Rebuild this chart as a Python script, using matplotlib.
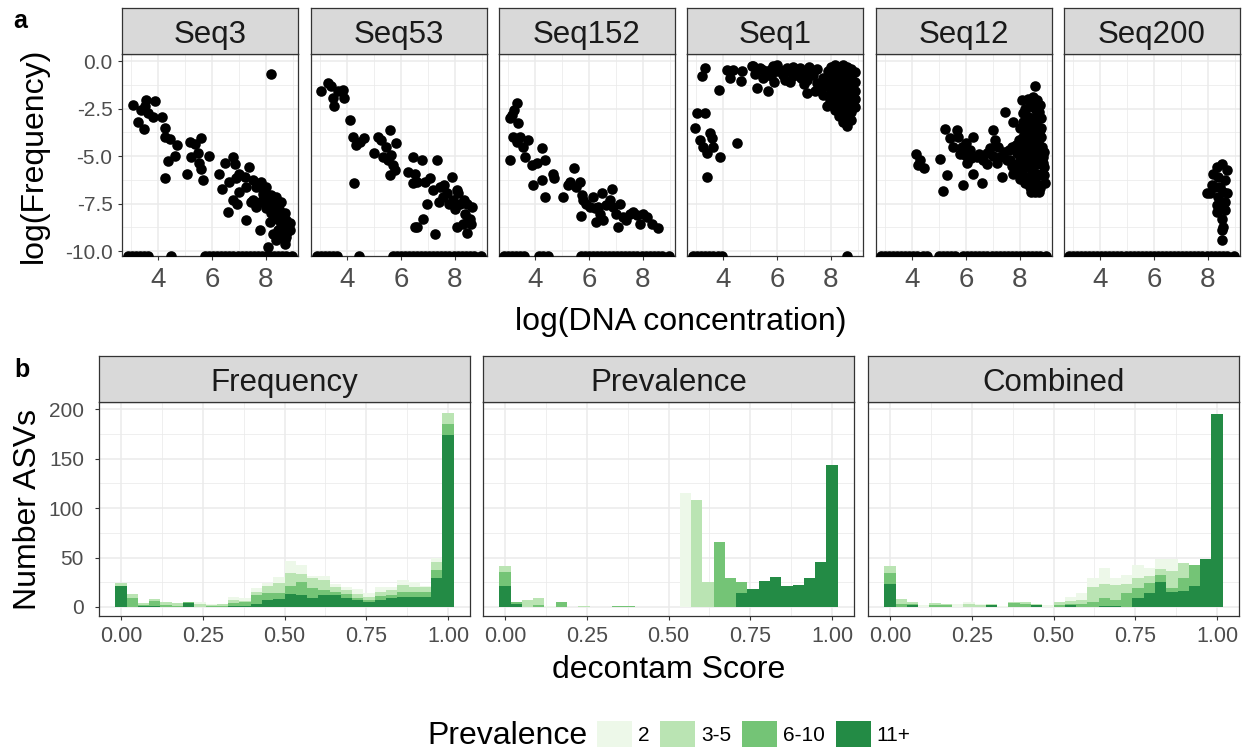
import numpy as np
import matplotlib
matplotlib.use('Agg')
import matplotlib.pyplot as plt
from matplotlib.patches import Patch
from matplotlib.ticker import FixedLocator, FormatStrFormatter

plt.rcParams['font.family'] = ['Liberation Sans', 'DejaVu Sans']
plt.rcParams['axes.unicode_minus'] = False

W, H = 1245, 750

# ---- panel a: log(Frequency) vs log(DNA concentration) ----
seq_names = ['Seq3', 'Seq53', 'Seq152', 'Seq1', 'Seq12', 'Seq200']

seq3_points = [
    (3.07, -2.31), (3.26, -3.19), (3.47, -3.59), (3.57, -2.04), (3.38, -2.57), (3.51, -2.39),
    (3.63, -2.75), (3.81, -2.92), (3.90, -2.10), (4.16, -2.92), (4.25, -3.50), (4.25, -4.01),
    (4.43, -4.12), (4.37, -5.26), (4.70, -4.42), (4.65, -5.00), (4.25, -6.18), (5.07, -5.93),
    (5.20, -4.24), (5.36, -4.37), (5.60, -4.03), (5.23, -5.07), (5.48, -4.86), (5.54, -5.39),
    (5.60, -5.70), (5.91, -4.98), (5.67, -6.27), (6.28, -5.92), (6.38, -6.76), (6.47, -5.35),
    (6.78, -5.04), (6.84, -5.42), (6.65, -6.36), (6.90, -6.18), (7.02, -5.92), (7.21, -6.09),
    (7.37, -5.56), (6.78, -7.32), (6.59, -7.94), (6.93, -7.50), (7.25, -8.38), (7.02, -6.88),
    (7.52, -6.27), (7.64, -6.62), (7.83, -6.36), (7.89, -6.80), (8.01, -6.62), (8.20, -7.06),
    (8.38, -7.15), (8.57, -7.41), (8.63, -8.03), (8.75, -8.38), (8.88, -8.91), (8.75, -9.26),
    (8.51, -9.17), (8.26, -9.08), (8.14, -8.47), (7.77, -8.91), (8.07, -9.79), (8.69, -9.61),
    (8.44, -8.91), (8.14, -7.50), (7.89, -7.32), (8.01, -7.76), (8.32, -8.12), (8.57, -8.56),
    (8.81, -8.73), (8.38, -9.44), (8.20, -0.67), (7.52, -7.32), (7.64, -7.68), (7.77, -7.41),
    (7.46, -7.41), (7.27, -6.62), (8.50, -7.80), (8.70, -8.00), (8.60, -8.90), (8.40, -8.30),
    (8.80, -9.00), (8.20, -8.00), (7.90, -7.00), (8.10, -7.30), (8.30, -7.60), (8.90, -8.50),
    (8.70, -9.40),
]
seq53_points = [
    (3.05, -1.60), (3.30, -1.16), (3.42, -1.34), (3.48, -1.95), (3.54, -2.39), (3.67, -1.60),
    (3.85, -1.51), (3.91, -1.95), (4.10, -3.10), (4.22, -3.98), (4.35, -4.42), (4.47, -4.24),
    (4.65, -4.07), (4.28, -6.44), (5.02, -4.86), (5.15, -3.98), (5.27, -4.15), (5.33, -5.04),
    (5.46, -4.51), (5.52, -5.21), (5.58, -3.63), (5.64, -4.95), (5.70, -5.48), (5.83, -4.33),
    (5.58, -6.00), (5.77, -5.74), (6.26, -5.83), (6.44, -6.44), (6.54, -8.73), (6.46, -5.04),
    (6.52, -5.92), (6.59, -6.36), (6.77, -5.21), (6.90, -6.36), (6.96, -7.50), (6.83, -8.29),
    (6.59, -8.73), (7.08, -6.18), (7.33, -5.21), (7.27, -9.08), (7.45, -6.62), (7.57, -7.15),
    (7.70, -6.97), (7.88, -6.09), (7.94, -7.32), (8.07, -6.80), (8.13, -6.97), (8.19, -7.50),
    (8.32, -7.32), (8.38, -8.03), (8.44, -7.50), (8.50, -8.38), (8.56, -8.29), (8.62, -7.68),
    (8.46, -9.05), (8.07, -8.73), (7.60, -6.50), (7.80, -7.50), (8.00, -7.80), (8.30, -8.60),
    (8.60, -8.60), (7.20, -6.80), (7.40, -7.40),
]
seq152_points = [
    (3.07, -3.01), (3.14, -2.83), (3.22, -2.57), (3.32, -2.22), (3.38, -3.27), (3.07, -5.21),
    (3.20, -3.98), (3.32, -4.24), (3.44, -3.98), (3.57, -4.51), (3.63, -5.04), (3.75, -4.15),
    (3.88, -5.48), (4.06, -5.39), (4.25, -4.60), (4.37, -5.21), (4.25, -6.27), (3.94, -6.53),
    (4.37, -7.15), (4.68, -5.92), (4.70, -6.18), (5.05, -7.15), (5.23, -6.53), (5.30, -6.36),
    (5.46, -5.65), (5.54, -6.62), (5.67, -6.36), (5.73, -7.06), (5.79, -7.32), (5.69, -8.17),
    (5.91, -7.50), (6.04, -7.68), (6.22, -7.76), (6.28, -8.47), (6.47, -6.97), (6.41, -8.03),
    (6.53, -8.38), (6.65, -7.59), (6.84, -6.71), (6.78, -7.32), (6.90, -7.68), (7.02, -8.03),
    (7.09, -8.73), (7.27, -8.20), (7.39, -8.38), (7.52, -8.03), (7.64, -7.94), (7.77, -8.12),
    (7.89, -8.56), (8.01, -8.03), (8.14, -8.20), (8.32, -8.56), (8.57, -8.77), (7.15, -7.50),
    (6.16, -7.15), (6.35, -7.68),
]
seq1_points = [
    (2.97, -3.50), (3.03, -2.75), (3.21, -0.81), (3.34, -0.37), (3.34, -2.75), (3.15, -4.15),
    (3.27, -4.51), (3.40, -4.86), (3.40, -6.09), (3.52, -3.80), (3.58, -4.07), (3.64, -4.51),
    (3.89, -5.07), (3.87, -1.55), (4.14, -0.46), (4.26, -0.90), (4.39, -0.46), (4.69, -0.55),
    (4.67, -1.07), (4.51, -4.30), (5.06, -0.28), (5.25, -1.43), (5.68, -1.60), (5.13, -0.28),
    (5.37, -0.37), (5.50, -0.46), (5.62, -0.63), (5.74, -0.46), (5.87, -0.28), (5.99, -0.55),
    (6.11, -0.46), (6.24, -0.72), (6.36, -0.37), (6.48, -0.55), (6.61, -0.81), (6.73, -0.55),
    (6.85, -0.37), (6.98, -0.63), (7.10, -0.99), (7.22, -0.55), (7.35, -0.72), (7.47, -1.16),
    (7.59, -1.51), (7.72, -1.78), (7.84, -2.39), (7.97, -2.04), (7.10, -1.69), (7.41, -1.60),
    (5.20, -0.70), (5.50, -0.90), (5.80, -0.80), (6.00, -0.20), (6.30, -1.00), (6.60, -0.30),
    (6.90, -0.90), (7.20, -0.30), (7.50, -0.40), (7.70, -0.90), (7.90, -0.50), (7.80, -1.30),
    (6.50, -1.10), (7.00, -1.20), (5.90, -1.10),
    (8.00, -0.30), (8.00, -0.70), (8.00, -1.10), (8.00, -1.50), (8.00, -1.90), (8.00, -2.20),
    (8.15, -0.20), (8.15, -0.60), (8.15, -1.00), (8.15, -1.40), (8.15, -1.80), (8.15, -2.30),
    (8.15, -2.60), (8.30, -0.30), (8.30, -0.70), (8.30, -1.20), (8.30, -1.60), (8.30, -2.00),
    (8.30, -2.50), (8.30, -2.90), (8.45, -0.20), (8.45, -0.60), (8.45, -1.00), (8.45, -1.50),
    (8.45, -1.90), (8.45, -2.40), (8.45, -2.80), (8.45, -3.20), (8.60, -0.30), (8.60, -0.80),
    (8.60, -1.20), (8.60, -1.70), (8.60, -2.10), (8.60, -2.60), (8.60, -3.00), (8.60, -3.40),
    (8.75, -0.40), (8.75, -0.90), (8.75, -1.30), (8.75, -1.80), (8.75, -2.20), (8.75, -2.70),
    (8.75, -3.10), (8.90, -0.60), (8.90, -1.10), (8.90, -1.60), (8.90, -2.00), (8.90, -2.40),
]
seq12_points = [
    (4.16, -4.89), (4.30, -5.21), (4.43, -5.65), (4.24, -5.48), (5.04, -5.18), (5.23, -3.59),
    (5.17, -6.83), (5.29, -6.00), (5.41, -4.07), (5.54, -4.51), (5.66, -3.63), (5.72, -3.98),
    (5.85, -4.51), (5.91, -6.50), (5.97, -4.95), (6.03, -5.39), (6.16, -4.68), (6.28, -3.98),
    (6.28, -5.92), (6.40, -5.04), (6.59, -6.41), (6.65, -5.21), (6.77, -4.86), (6.90, -4.60),
    (7.02, -3.63), (7.08, -4.15), (7.14, -5.39), (7.27, -5.04), (7.33, -6.09), (7.45, -2.66),
    (7.51, -5.21), (7.70, -4.51), (7.76, -3.19), (7.82, -5.74), (7.95, -4.15), (8.07, -2.04),
    (8.13, -2.75), (8.25, -3.36), (8.38, -2.39), (8.50, -1.87), (8.56, -1.34), (8.62, -2.04),
    (8.69, -2.92), (8.75, -3.63), (8.81, -4.51), (8.87, -5.39), (8.93, -6.44), (8.69, -6.88),
    (8.38, -6.62), (8.19, -6.44), (8.13, -5.39), (8.25, -4.68), (8.44, -4.15), (8.56, -5.21),
    (8.62, -5.92), (8.87, -5.92), (8.75, -4.86), (8.50, -3.45), (8.01, -5.04), (7.88, -4.86),
    (7.64, -5.21), (7.76, -5.92), (8.44, -5.92), (8.32, -5.56), (8.69, -3.98), (8.87, -5.04),
    (8.30, -4.00), (8.40, -3.00), (8.60, -2.60), (8.50, -4.80), (8.30, -6.10), (8.60, -6.40),
    (8.80, -6.00), (8.90, -5.60), (8.20, -3.80), (8.00, -4.50), (8.10, -6.00), (8.45, -6.60),
    (8.70, -4.40), (8.55, -3.70), (8.35, -5.00), (8.00, -5.60), (7.90, -5.40), (7.60, -4.70),
    (7.40, -4.80), (7.20, -4.50), (7.00, -5.00), (6.80, -5.40), (6.50, -4.90), (6.20, -5.10),
    (6.00, -4.30), (5.80, -4.90), (8.20, -2.50), (8.30, -3.50), (8.40, -4.50), (8.50, -5.50),
    (8.60, -3.20), (8.70, -5.00), (8.80, -3.00), (8.80, -4.00), (8.90, -4.80), (8.30, -2.00),
    (8.00, -3.50), (8.10, -4.00), (8.20, -5.00), (8.40, -5.20), (8.60, -4.30), (8.50, -2.40),
    (8.75, -2.30), (8.65, -6.00), (8.45, -6.30), (8.90, -6.00), (8.00, -6.20), (7.90, -5.90),
    (8.25, -6.40), (8.55, -6.90), (8.75, -6.70), (8.10, -3.20), (8.20, -4.30), (8.05, -4.80),
    (8.15, -5.60), (8.35, -4.40), (8.35, -3.10), (8.45, -3.60), (8.55, -4.60), (8.65, -5.40),
    (8.80, -3.50), (8.25, -2.90), (7.85, -4.40), (7.70, -5.50), (8.40, -6.90), (8.70, -2.70),
]
seq200_points = [
    (7.95, -6.94), (8.14, -6.53), (8.20, -5.92), (8.32, -5.56), (8.51, -5.44), (8.69, -5.74),
    (8.63, -6.27), (8.44, -6.62), (8.57, -6.88), (8.38, -7.15), (8.51, -7.50), (8.63, -7.85),
    (8.32, -7.94), (8.51, -8.29), (8.57, -8.73), (8.54, -8.91), (8.51, -9.40), (8.26, -6.62),
    (8.07, -6.97), (8.69, -6.97), (8.38, -6.09), (8.63, -7.41), (8.32, -7.59),
]

# samples where the sequence was not detected (drawn on the floor of the axis)
seq3_zero = [2.9, 3.05, 3.2, 3.35, 3.5, 3.65, 4.5, 5.75, 5.9, 6.05, 6.2, 6.35, 6.5, 6.65, 6.8,
             6.95, 7.1, 7.25, 7.4, 7.55, 7.7, 7.85, 8.0, 8.15, 8.3, 8.45, 8.6, 8.75, 8.95]
seq53_zero = [2.9, 3.05, 3.2, 3.35, 3.5, 3.65, 4.45, 5.7, 5.85, 6.0, 6.15, 6.3, 6.45, 6.6, 6.75,
              6.9, 7.05, 7.2, 7.35, 7.5, 7.65, 7.8, 7.95, 8.1, 8.25, 8.4, 8.55, 8.7, 8.95]
seq152_zero = [2.85, 3.0, 3.15, 3.3, 3.45, 3.6, 4.15, 4.3, 4.5, 5.7, 5.85, 6.0, 6.15, 6.3, 6.45,
               6.6, 6.75, 6.9, 7.05, 7.2, 7.35, 7.5, 7.65, 7.8, 7.95, 8.1, 8.25, 8.4, 8.55,
               8.7, 8.95]
seq1_zero = [2.9, 3.05, 3.2, 3.35, 3.5, 3.65, 3.8, 3.95, 8.6]
seq12_zero = [2.85, 3.0, 3.15, 3.3, 3.45, 3.6, 3.75, 3.9, 4.05, 4.2, 4.4, 4.55, 5.0, 5.15, 5.3,
              5.45, 5.6, 5.9, 6.05, 6.2, 6.35, 6.5, 6.65, 6.8, 6.95, 7.1, 7.25, 7.4, 7.55, 7.7,
              7.85, 8.0, 8.15, 8.3, 8.45, 8.6, 8.75, 8.95]
seq200_zero = [2.85, 3.0, 3.15, 3.3, 3.45, 3.6, 3.75, 3.9, 4.05, 4.2, 4.35, 4.5, 4.65, 4.8,
               4.95, 5.1, 5.25, 5.4, 5.55, 5.7, 5.85, 6.0, 6.15, 6.3, 6.45, 6.6, 6.75, 6.9,
               7.05, 7.2, 7.35, 7.5, 7.65, 7.8, 7.95, 8.1, 8.25, 8.4, 8.55, 8.7, 8.95]
freq_floor = -10.26

seq_points = [seq3_points, seq53_points, seq152_points, seq1_points, seq12_points, seq200_points]
seq_zero = [seq3_zero, seq53_zero, seq152_zero, seq1_zero, seq12_zero, seq200_zero]

# ---- panel b: histograms of decontam score, 30 bins, stacked by prevalence ----
methods = ['Frequency', 'Prevalence', 'Combined']
prev_levels = ['2', '3-5', '6-10', '11+']
prev_colors = ['#edf8e9', '#bae4b3', '#74c476', '#238b45']

frequency_p11 = [21, 0, 1, 1, 0, 0, 4, 0, 0, 0, 1, 1, 3, 7, 8, 13, 12, 9, 12, 12, 9, 7, 5, 7, 9, 10, 10, 10, 29, 174]
frequency_p6_10 = [0, 9, 1, 5, 2, 1, 1, 0, 1, 1, 3, 4, 9, 7, 6, 8, 13, 10, 5, 3, 4, 2, 2, 4, 3, 5, 5, 5, 8, 11]
frequency_p3_5 = [3, 4, 2, 2, 3, 3, 0, 3, 1, 2, 3, 1, 3, 7, 10, 13, 8, 10, 10, 5, 4, 4, 3, 4, 5, 7, 5, 5, 8, 11]
frequency_p2 = [0, 0, 0, 0, 0, 0, 0, 2, 1, 0, 3, 3, 4, 3, 6, 12, 9, 2, 4, 3, 3, 5, 4, 5, 3, 5, 5, 1, 5, 0]

prevalence_p11 = [21, 3, 0, 0, 0, 0, 0, 0, 0, 0, 0, 0, 0, 0, 0, 0, 0, 0, 0, 0, 0, 14, 18, 26, 30, 21, 22, 29, 45, 143]
prevalence_p6_10 = [14, 2, 0, 2, 0, 5, 0, 0, 0, 0, 1, 1, 0, 0, 0, 0, 0, 0, 0, 66, 29, 11, 0, 0, 0, 0, 0, 0, 0, 0]
prevalence_p3_5 = [6, 0, 7, 7, 0, 0, 0, 1, 0, 0, 0, 0, 0, 0, 0, 0, 0, 108, 25, 0, 0, 0, 0, 0, 0, 0, 0, 0, 0, 0]
prevalence_p2 = [0, 0, 0, 0, 1, 0, 0, 0, 0, 0, 0, 0, 0, 0, 0, 0, 115, 0, 0, 0, 0, 0, 0, 0, 0, 0, 0, 0, 0, 0]

combined_p11 = [23, 0, 2, 0, 0, 0, 0, 0, 0, 2, 0, 0, 0, 2, 0, 0, 2, 0, 0, 1, 1, 0, 9, 14, 25, 15, 16, 21, 48, 195]
combined_p6_10 = [11, 3, 1, 0, 2, 2, 0, 0, 0, 0, 0, 4, 3, 0, 0, 2, 1, 3, 5, 8, 6, 14, 10, 10, 7, 4, 13, 21, 0, 0]
combined_p3_5 = [7, 5, 2, 0, 2, 1, 0, 3, 2, 1, 0, 1, 2, 1, 0, 3, 3, 4, 15, 14, 15, 9, 10, 7, 6, 17, 15, 0, 0, 0]
combined_p2 = [0, 0, 0, 2, 0, 0, 3, 2, 1, 0, 1, 0, 0, 0, 2, 0, 4, 7, 9, 16, 7, 9, 13, 8, 10, 12, 0, 0, 0, 0]

hist_counts = [
    [frequency_p2, frequency_p3_5, frequency_p6_10, frequency_p11],
    [prevalence_p2, prevalence_p3_5, prevalence_p6_10, prevalence_p11],
    [combined_p2, combined_p3_5, combined_p6_10, combined_p11],
]
n_bins = 30
bin_width = 1.0 / (n_bins - 1)
bin_centers = np.arange(n_bins) * bin_width

# ---- styling helpers ----
BORDER = '#333333'
GRID = '#EBEBEB'
TICKLAB = '#4D4D4D'


def px_rect(left, top, width, height):
    return [left / W, 1 - (top + height) / H, width / W, height / H]


def add_strip(fig, left, top, width, height, label):
    sax = fig.add_axes(px_rect(left, top, width, height))
    sax.set_facecolor('#D9D9D9')
    sax.set_xticks([])
    sax.set_yticks([])
    for s in sax.spines.values():
        s.set_color(BORDER)
        s.set_linewidth(0.9)
    sax.text(0.5, 0.235, label, ha='center', va='baseline', fontsize=22.5,
             color='#1A1A1A', transform=sax.transAxes)
    return sax


def style_panel(ax):
    ax.set_facecolor('white')
    ax.set_axisbelow(True)
    for s in ax.spines.values():
        s.set_color(BORDER)
        s.set_linewidth(0.9)
    ax.grid(which='major', color=GRID, linewidth=1.1)
    ax.grid(which='minor', color=GRID, linewidth=0.55)
    ax.tick_params(which='major', length=2.8, width=0.8, color=BORDER, labelcolor=TICKLAB)
    ax.tick_params(which='minor', length=0)


fig = plt.figure(figsize=(W / 100, H / 100), dpi=100)

# panel a
top_lefts = [122, 311, 499, 687, 876, 1064]
for i, name in enumerate(seq_names):
    ax = fig.add_axes(px_rect(top_lefts[i], 54, 176, 202))
    style_panel(ax)
    pts = np.array(seq_points[i])
    ax.scatter(pts[:, 0], pts[:, 1], s=58, c='black', linewidths=0, zorder=3)
    zx = np.array(seq_zero[i])
    ax.scatter(zx, np.full(len(zx), freq_floor), s=58, c='black', linewidths=0, zorder=3)
    ax.set_xlim(2.67, 9.19)
    ax.set_ylim(-10.26, 0.37)
    ax.xaxis.set_major_locator(FixedLocator([4, 6, 8]))
    ax.xaxis.set_minor_locator(FixedLocator([3, 5, 7, 9]))
    ax.yaxis.set_major_locator(FixedLocator([0, -2.5, -5, -7.5, -10]))
    ax.yaxis.set_minor_locator(FixedLocator([-1.25, -3.75, -6.25, -8.75]))
    ax.yaxis.set_major_formatter(FormatStrFormatter('%.1f'))
    ax.tick_params(axis='x', labelsize=20, pad=5)
    ax.tick_params(axis='y', labelsize=15, pad=4)
    if i > 0:
        ax.tick_params(axis='y', labelleft=False, length=0)
    add_strip(fig, top_lefts[i], 8, 176, 46, name)

fig.text(34 / W, 1 - 155 / H, 'log(Frequency)', rotation=90, ha='center', va='center', fontsize=23)
fig.text(680.5 / W, 1 - 330 / H, 'log(DNA concentration)', ha='center', va='baseline', fontsize=23)

# panel b
bot_lefts = [99, 483, 868]
for i, name in enumerate(methods):
    ax = fig.add_axes(px_rect(bot_lefts[i], 402, 371, 214))
    style_panel(ax)
    bottom = np.zeros(n_bins)
    # darkest level sits at the base of the stack, '2' on top
    for lvl in [3, 2, 1, 0]:
        vals = np.array(hist_counts[i][lvl], dtype=float)
        ax.bar(bin_centers, vals, width=bin_width, bottom=bottom, color=prev_colors[lvl],
               linewidth=0, zorder=2)
        bottom += vals
    ax.set_xlim(-0.067, 1.067)
    ax.set_ylim(-9.1, 207.1)
    ax.xaxis.set_major_locator(FixedLocator([0, 0.25, 0.5, 0.75, 1.0]))
    ax.xaxis.set_minor_locator(FixedLocator([0.125, 0.375, 0.625, 0.875]))
    ax.yaxis.set_major_locator(FixedLocator([0, 50, 100, 150, 200]))
    ax.yaxis.set_minor_locator(FixedLocator([25, 75, 125, 175]))
    ax.xaxis.set_major_formatter(FormatStrFormatter('%.2f'))
    ax.tick_params(axis='x', labelsize=15.5, pad=4.5)
    ax.tick_params(axis='y', labelsize=15, pad=8)
    if i > 0:
        ax.tick_params(axis='y', labelleft=False, length=0)
    add_strip(fig, bot_lefts[i], 356, 371, 46, name)

fig.text(28 / W, 1 - 509 / H, 'Number ASVs', rotation=90, ha='center', va='center', fontsize=23)
fig.text(669 / W, 1 - 678 / H, 'decontam Score', ha='center', va='baseline', fontsize=23)

# panel letters
fig.text(13 / W, 1 - 28 / H, 'a', fontsize=18, fontweight='bold', va='baseline')
fig.text(14 / W, 1 - 377 / H, 'b', fontsize=18, fontweight='bold', va='baseline')

# legend
fig.text(427 / W, 1 - 744 / H, 'Prevalence', fontsize=23, va='baseline')
handles = [Patch(facecolor=c, edgecolor='none') for c in prev_colors]
fig.legend(handles, prev_levels, loc='center left', bbox_to_anchor=(597 / W, 1 - 734 / H),
           ncol=4, frameon=False, fontsize=15, handlelength=1.68, handleheight=1.55,
           handletextpad=0.3, columnspacing=0.5, borderpad=0, borderaxespad=0)

fig.savefig('out.png', dpi=100)
